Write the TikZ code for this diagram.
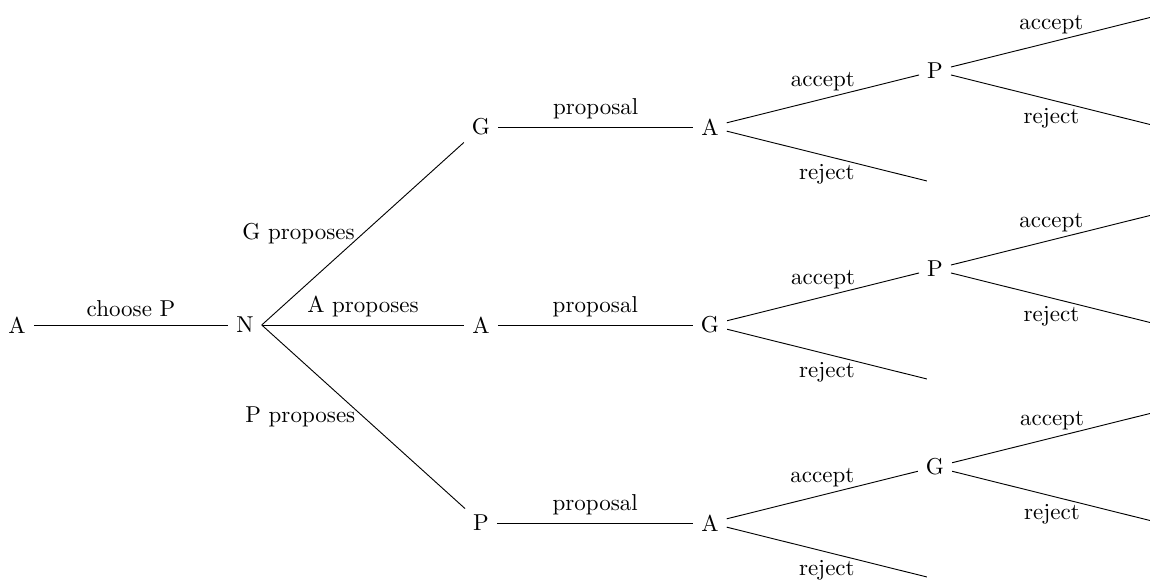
\documentclass[tikz,border=0pt]{standalone}
\usepackage{amssymb}
\usepackage{amsmath}
\usepackage{xcolor}
\usepackage{tikz}

\begin{document}
\begin{tikzpicture}[x=0.4348pt,y=-0.4348pt]
            \useasboundingbox (0,0) rectangle (1150,584);

            \node at (17,325) (A) {A};
            \node at (245,325) (N) {N};

            \node at (481,127) (G1) {G};
            \node at (481,325) (A1) {A};
            \node at (481,523) (P1) {P};

            \node at (710,127) (A2) {A};
            \node at (710,325) (G2) {G};
            \node at (710,523) (A3) {A};

            \node at (935,71) (P2) {P};
            \node at (935,183) (E1) {};
            \node at (935,269) (P3) {P};
            \node at (935,381) (E2) {};
            \node at (935,467) (G3) {G};
            \node at (935,579) (E3) {};

            \node at (1160,15) (E4) {};
            \node at (1160,127) (E5) {};
            \node at (1160,213) (E6) {};
            \node at (1160,325) (E7) {};
            \node at (1160,411) (E8) {};
            \node at (1160,523) (E9) {};

            \draw[-] (A) -- node[above] {choose P} (N);
            \draw[-] (N.east) -- node[left] {G proposes} (G1);
            \draw[-] (N.east) -- node[above] {A proposes} (A1);
            \draw[-] (N.east) -- node[left] {P proposes} (P1);

            \draw[-] (G1) -- node[above] {proposal} (A2);
            \draw[-] (A1) -- node[above] {proposal} (G2);
            \draw[-] (P1) -- node[above] {proposal} (A3);

            \draw[-] (A2) -- node[above] {accept} (P2);
            \draw[-] (A2) -- node[below] {reject} (E1);
            \draw[-] (G2) -- node[above] {accept} (P3);
            \draw[-] (G2) -- node[below] {reject} (E2);
            \draw[-] (A3) -- node[above] {accept} (G3);
            \draw[-] (A3) -- node[below] {reject} (E3);

            \draw[-] (P2) -- node[above] {accept} (E4);
            \draw[-] (P2) -- node[below] {reject} (E5);
            \draw[-] (P3) -- node[above] {accept} (E6);
            \draw[-] (P3) -- node[below] {reject} (E7);
            \draw[-] (G3) -- node[above] {accept} (E8);
            \draw[-] (G3) -- node[below] {reject} (E9);
        \end{tikzpicture}
\end{document}
